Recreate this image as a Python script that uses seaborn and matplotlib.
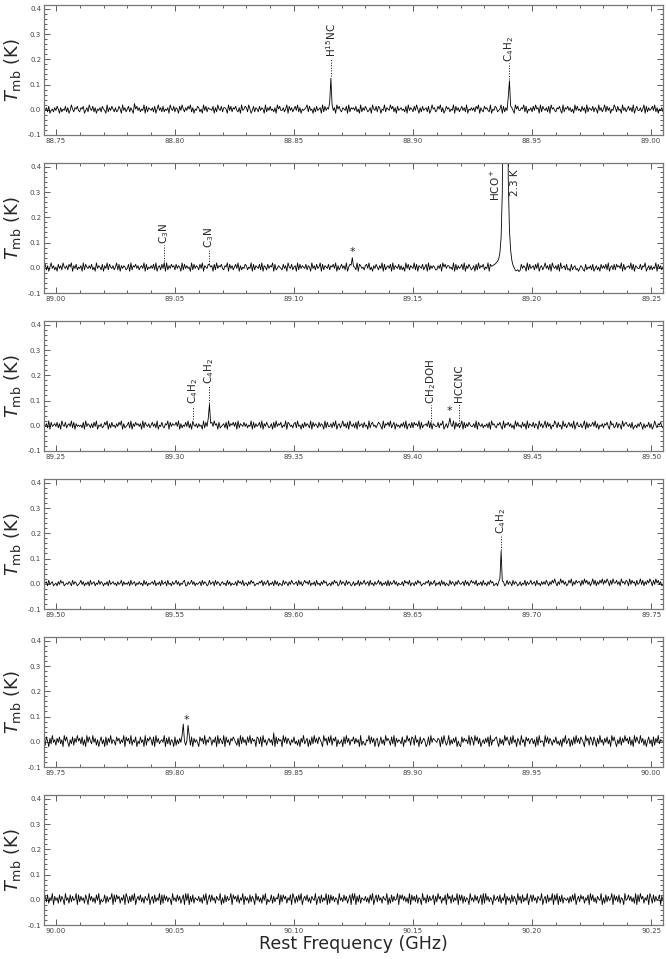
import numpy as np
import pandas as pd
import matplotlib
matplotlib.use("Agg")
import matplotlib.pyplot as plt
from matplotlib.ticker import MultipleLocator, FormatStrFormatter
import seaborn as sns

# start frequency of each panel (GHz) and channel width (GHz)
panel_start = [88.745, 88.995, 89.245, 89.495, 89.745, 89.995]
chan_step = 0.0005

# baseline noise, one digit per channel
# (digit d -> (d - 4.5) * 5.5 mK)
noise_p1 = """
5463724536 4752635473 6248536574 3657246385 4736254637 5428364753
6347528463 5736429574 6354827365 4637258463 7354628547 3652748536
4758362547 6352847365 5472638547 3665284736 5743628457 6385247365
3746528364 7453628574 4635827463 5748362545 6837452637 4562837465
5374628574 3654728365 6473528364 7534628547 3762548365 4857362745
6453728465 3748526374 5637248563 4758362475 6354827463 5746382546
4637582643 7564382547 6345827364 5736428574 4658372546 3748562837
5463728564 3657428365 7463528474 5374628365 4736528463 5837462548
6374528463 5746382574 4635827364 5748362546 3657428563 4736528467
"""
noise_p2 = """
4736258463 5274638546 3758264735 4628375464 7352846537 2648375463
5837264653 4728365746 3564827354 6473825637 4528364756 3746528374
6452837465 3748265473 5627384657 4365827463 5748263547 6354827365
4738265374 6582734654 3746285473 5628374654 7365284637 4582736547
3657482635 7463825746 4538276453 6748352647 5364827356 4728365473
6352847365 4837265473 5728364653 3647285746 6453827364 5738264753
4627384657 3548276453 6738452637 4653827465 3746528374 5637482563
5846372854 6372845637 3427356342 4653273546 3724635274 6473825637
3756482735 5648372654 4736582463 6354827463 5827364754 4638275463
"""
noise_p3 = """
5463827456 4736285473 5648372645 4537284653 6374825463 4758263745
3647582634 5738264756 4628375463 5746382547 4365827465 5748263547
4836275463 6452837465 3748562734 5637284657 4728365474 6354827364
5738264753 4627384657 3548276453 6738452637 4653827465 3746528374
4637482563 5846372854 6372845637 4528367453 5764283657 4835726453
6473825637 3756482735 5648372654 4736582463 6354827463 5827364754
4638275463 5463728564 3657428365 7463528474 5374628365 4736528463
5837462548 6374528463 5746382574 4635827364 5748362546 3657428563
4736528467 5463724536 4752635473 6248536574 3657246385 4736254637
"""
noise_p4 = """
4563745634 5364756345 4653746534 5746354637 4563547465 3546374564
5364573645 4637456354 6453746354 5647354637 4563745364 5746354673
3645746354 5637465347 4563746535 6453746354 4637564735 5364756345
4657364573 5463746354 3746536475 4563746357 5647354637 4536475634
5364756347 4653746534 6354736457 4563745364 5746354637 3645746354
4637564735 5364756345 4657364573 5463746354 3746536475 4563746357
5647354637 4536475634 5364756347 4653746534 6354736457 4563745364
6475364758 5364857463 4758364756 6374857463 5847364758 4758637485
5746385647 6384756374 5847364758 6374857463 4758364857 6385746374
"""
noise_p5 = """
6285173946 2748361958 4163827495 7382619485 3947261583 6182749365
2857364918 5739264815 3846192758 6281947356 4917382651 8263749152
5392817464 1857392648 7264819375 3918462758 6427193846 2849375618
7381946257 4629183756 1948375264 8352617493 5716283947 3864195728
4927581634 6183947265 8374619253 2659384716 7148362957 5283917465
3816495728 7294618357 5138294765 4761839524 9263748152 1847563928
6295837146 3748192657 8417362958 5283946175 2946185736 7361829455
1948375264 8352617493 5716283947 3864195728 6285173946 2748361958
4163827495 7382619485 3947261583 6182749365 5392817464 1857392648
"""
noise_p6 = """
5738264917 4628375194 6283745918 3746285194 7362849153 4827365918
3857264819 6273849157 4836275491 5728364918 2847365194 6384725819
4917382654 7362849158 3846275491 6283745918 5738264917 4628375194
7362849153 4827365918 3857264819 6273849157 4836275491 5728364918
2847365194 6384725819 4917382654 7362849158 3846275491 6283745918
5847362918 4738265194 6283745817 3957264819 5728364918 4827365194
6384725819 2947365184 5738264917 4628375194 7283649158 3846275491
5728364918 4917382654 6273849157 3857264819 4836275491 6283745918
4738265194 5847362918 3957264819 6283745817 4827365194 5728364918
"""
noise_panels = [noise_p1, noise_p2, noise_p3, noise_p4, noise_p5, noise_p6]

# emission lines: panel, centre frequency (GHz), channel values (K)
line_panel = [0, 0, 1, 1, 1, 1, 2, 2, 2, 2, 3, 4, 4, 4]
line_freq = [88.8657, 88.9405, 89.0455, 89.0645, 89.1245, 89.1890,
             89.3075, 89.3145, 89.4075, 89.4155, 89.6870,
             89.8035, 89.8055, 89.8415]
line_values = [
    [0.03, 0.125, 0.02],
    [0.05, 0.115, 0.015],
    [0.02],
    [0.012],
    [0.01, 0.04, 0.005],
    [0.006, 0.008, 0.012, 0.015, 0.02, 0.025, 0.035, 0.06, 0.12, 0.3,
     1.2, 2.1, 2.3, 1.6, 0.35, 0.15, 0.07, 0.03, 0.01, 0.0,
     -0.01, -0.012, -0.008, -0.015, -0.01],
    [0.018],
    [0.03, 0.085, 0.01],
    [0.014],
    [0.03],
    [0.02, 0.13, 0.01],
    [0.07],
    [0.065],
    [0.035],
]

# line identifications: panel, text, frequency, dotted line from / to (K)
label_panel = [0, 0, 1, 1, 2, 2, 2, 2, 3]
label_text = [r"H$^{15}$NC", r"C$_4$H$_2$", r"C$_3$N", r"C$_3$N",
              r"C$_4$H$_2$", r"C$_4$H$_2$", r"CH$_2$DOH", "HCCNC", r"C$_4$H$_2$"]
label_freq = [88.8657, 88.9405, 89.0455, 89.0645, 89.3075, 89.3145,
              89.4075, 89.4193, 89.6870]
label_y0 = [0.135, 0.12, 0.025, 0.015, 0.025, 0.09, 0.02, 0.0, 0.135]
label_y1 = [0.21, 0.19, 0.095, 0.078, 0.085, 0.165, 0.088, 0.093, 0.197]

# unidentified features
star_panel = [1, 2, 4]
star_freq = [89.1245, 89.4152, 89.8048]
star_y = [0.063, 0.06, 0.088]

sns.set_style("ticks")
plt.rcParams["font.family"] = ["DejaVu Sans"]
plt.rcParams["mathtext.fontset"] = "dejavusans"

fig = plt.figure(figsize=(6.66, 9.59), dpi=100)
W, H = 666.0, 959.0

for k, start in enumerate(panel_start):
    vals = [(int(c) - 4.5) * 0.0055 for c in noise_panels[k] if c.isdigit()]
    vals = np.array(vals)
    freq = start + chan_step * np.arange(len(vals))
    for p, f0, prof in zip(line_panel, line_freq, line_values):
        if p != k:
            continue
        i0 = int(round((f0 - start) / chan_step)) - len(prof) // 2
        vals[i0:i0 + len(prof)] = prof
    df = pd.DataFrame({"freq": freq, "tmb": vals})

    top = 5 + 158 * k
    ax = fig.add_axes([44 / W, 1 - (top + 130) / H, 619 / W, 130 / H])
    sns.lineplot(data=df, x="freq", y="tmb", ax=ax, color="black",
                 lw=0.6, estimator=None, errorbar=None)

    for p, txt, f0, y0, y1 in zip(label_panel, label_text, label_freq, label_y0, label_y1):
        if p != k:
            continue
        ax.plot([f0, f0], [y0, y1 - 0.005], ls=":", lw=0.7, color="black")
        ax.text(f0, y1, txt, rotation=90, ha="center", va="bottom", fontsize=7.5)
    for p, f0, y in zip(star_panel, star_freq, star_y):
        if p == k:
            ax.text(f0, y, "*", ha="center", va="center", fontsize=8)
    if k == 1:
        ax.text(89.1875, 0.39, r"HCO$^+$", rotation=90, ha="right", va="top", fontsize=7.5)
        ax.text(89.1907, 0.39, "2.3 K", rotation=90, ha="left", va="top", fontsize=7.5)

    ax.set_xlim(start, start + 0.26)
    ax.set_ylim(-0.1, 0.415)
    ax.set_yticks([-0.1, 0.0, 0.1, 0.2, 0.3, 0.4])
    ax.xaxis.set_major_locator(MultipleLocator(0.05))
    ax.xaxis.set_minor_locator(MultipleLocator(0.01))
    ax.yaxis.set_minor_locator(MultipleLocator(0.02))
    ax.xaxis.set_major_formatter(FormatStrFormatter("%.2f"))
    ax.yaxis.set_major_formatter(FormatStrFormatter("%.1f"))
    ax.tick_params(which="both", direction="in", top=True, right=True,
                   labelsize=5, colors="#444444", pad=2, width=0.6)
    ax.tick_params(which="major", length=4)
    ax.tick_params(which="minor", length=2)
    for sp in ax.spines.values():
        sp.set_color("#777777")
        sp.set_linewidth(0.9)
    ax.set_ylabel(r"$T_{\rm mb}$ (K)", fontsize=13, labelpad=3)
    if k == len(panel_start) - 1:
        ax.set_xlabel("Rest Frequency (GHz)", fontsize=12.5, labelpad=1)
    else:
        ax.set_xlabel("")

fig.savefig("out.png", dpi=100)
